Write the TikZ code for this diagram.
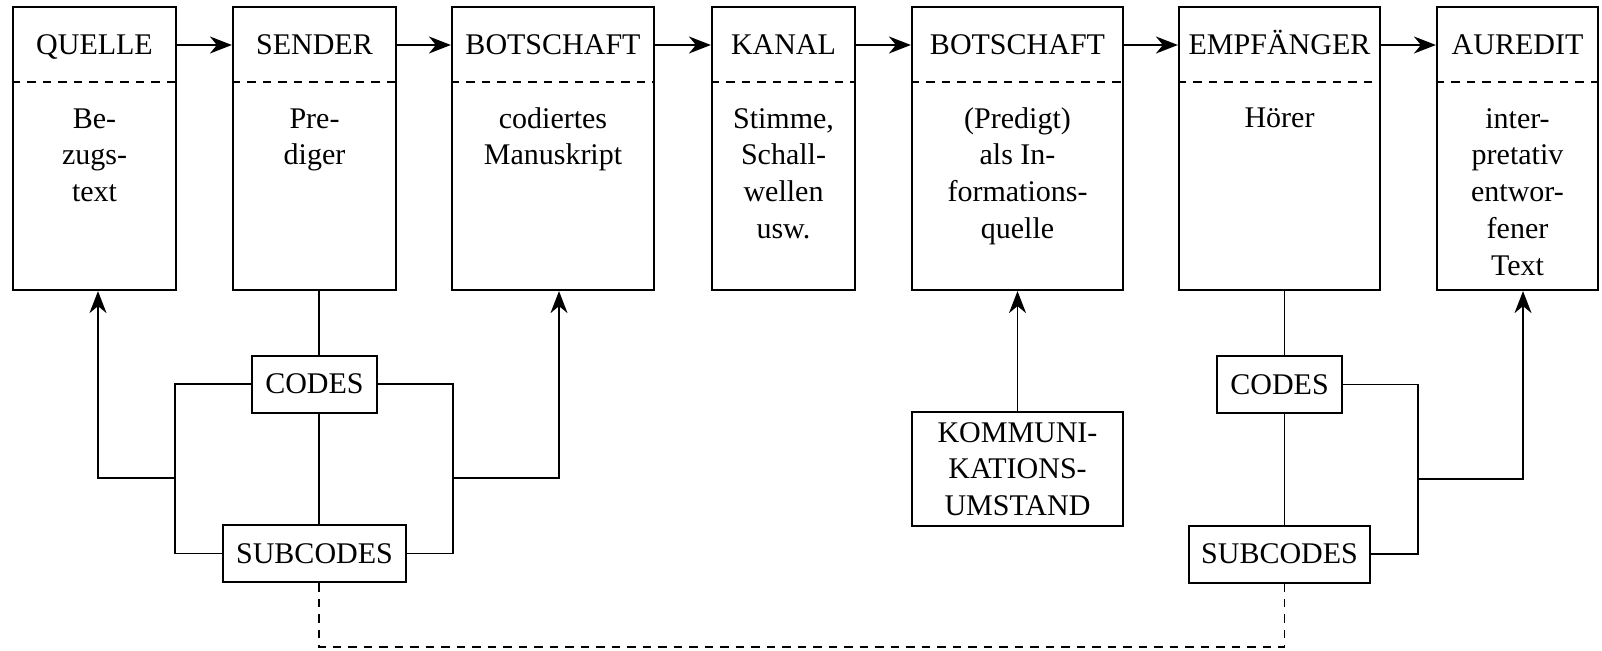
\documentclass[tikz,border=0pt]{standalone}
\usepackage{fontspec}
\setmainfont{Liberation Serif}
\usetikzlibrary{arrows.meta}

% one stage of the chain: framed column with title, dashed separator and body text;
% #6 is the number of body lines (the body node sits on the baseline of its last line)
\newcommand{\stagebox}[6]{%
  \node[stage, minimum width=#3] (#1) at (#2,148.5) {};
  \node[txt, anchor=base] (#1-title) at (#2,55) {#4};
  \draw[sep] (#1.west |- sepline) -- (#1.east |- sepline);
  \node[txt, anchor=base, align=center] (#1-body) at (#2,{128+36.75*(#6-1)}) {#5};
}

\begin{document}
\begin{tikzpicture}[x=1pt, y=-1pt,
  txt/.style={font=\fontsize{30}{36.75}\selectfont, inner sep=0pt},
  stage/.style={draw, line width=2.2pt, inner sep=0pt, minimum height=283pt},
  tag/.style={draw, line width=2pt, txt, minimum height=57pt},
  sep/.style={line width=1.8pt, dash pattern=on 8.5pt off 7pt},
  wire/.style={line width=1.9pt},
  arr/.style={wire, -{Stealth[length=22pt, width=17pt, inset=7pt]}},
  link/.style={line width=1.8pt, dash pattern=on 8.5pt off 7pt}]

\useasboundingbox (0,0) rectangle (1602,650);

\coordinate (row) at (0,45);
\coordinate (sepline) at (0,82);

% upper chain
\stagebox{quelle}{94.5}{163pt}{QUELLE}{Be-\\zugs-\\text}{3}
\stagebox{sender}{314.5}{163pt}{SENDER}{Pre-\\diger}{2}
\stagebox{botschaftA}{553}{202pt}{BOTSCHAFT}{codiertes\\Manuskript}{2}
\stagebox{kanal}{783.5}{143pt}{KANAL}{Stimme,\\Schall-\\wellen\\usw.}{4}
\stagebox{botschaftB}{1017.5}{211pt}{BOTSCHAFT}{(Predigt)\\als In-\\formations-\\quelle}{4}
\stagebox{empf}{1279.5}{201pt}{EMPFÄNGER}{Hörer}{1}
\stagebox{auredit}{1517.5}{161pt}{AUREDIT}{inter-\\pretativ\\entwor-\\fener\\Text}{5}

\draw[arr] (quelle.east |- row) -- (sender.west |- row);
\draw[arr] (sender.east |- row) -- (botschaftA.west |- row);
\draw[arr] (botschaftA.east |- row) -- (kanal.west |- row);
\draw[arr] (kanal.east |- row) -- (botschaftB.west |- row);
\draw[arr] (botschaftB.east |- row) -- (empf.west |- row);
\draw[arr] (empf.east |- row) -- (auredit.west |- row);

% codes of the sender side
\node[tag, minimum width=125pt] (codesL) at (314.5,384) {CODES};
\node[tag, minimum width=183pt] (subcodesL) at (314.5,553.5) {SUBCODES};
\draw[wire] ([xshift=4.5pt]sender.south) -- ([xshift=4.5pt]codesL.north);
\draw[wire] ([xshift=4.5pt]codesL.south) -- ([xshift=4.5pt]subcodesL.north);
\coordinate (bracketL) at (175,478);
\coordinate (bracketM) at (453,478);
\draw[wire] (codesL.west) -| (bracketL) |- (subcodesL.west);
\draw[wire] (codesL.east) -| (bracketM) |- (subcodesL.east);
\draw[arr] (bracketL) -| ([xshift=3.5pt]quelle.south);
\draw[arr] (bracketM) -| ([xshift=6pt]botschaftA.south);

% circumstances of communication
\node[tag, minimum width=211pt, minimum height=114pt, align=center] (komm) at (1017.5,469) {KOMMUNI-\\KATIONS-\\UMSTAND};
\draw[arr] (komm.north) -- (botschaftB.south);

% codes of the receiver side
\node[tag, minimum width=125pt] (codesR) at (1279.5,384.5) {CODES};
\node[tag, minimum width=181pt] (subcodesR) at (1279.5,554) {SUBCODES};
\draw[wire] ([xshift=5pt]empf.south) -- ([xshift=5pt]codesR.north);
\draw[wire] ([xshift=5pt]codesR.south) -- ([xshift=5pt]subcodesR.north);
\coordinate (bracketE) at (1418,479);
\draw[wire] (codesR.east) -| (bracketE) |- (subcodesR.east);
\draw[arr] (bracketE) -| ([xshift=5.5pt]auredit.south);

% dashed link between the two subcode boxes
\coordinate (linkY) at (0,647);
\coordinate (linkL) at ([xshift=4.5pt]subcodesL.south);
\coordinate (linkR) at ([xshift=5pt]subcodesR.south);
\draw[link] (linkL) -- (linkL |- linkY) -- (linkR |- linkY) -- (linkR);

\end{tikzpicture}
\end{document}
